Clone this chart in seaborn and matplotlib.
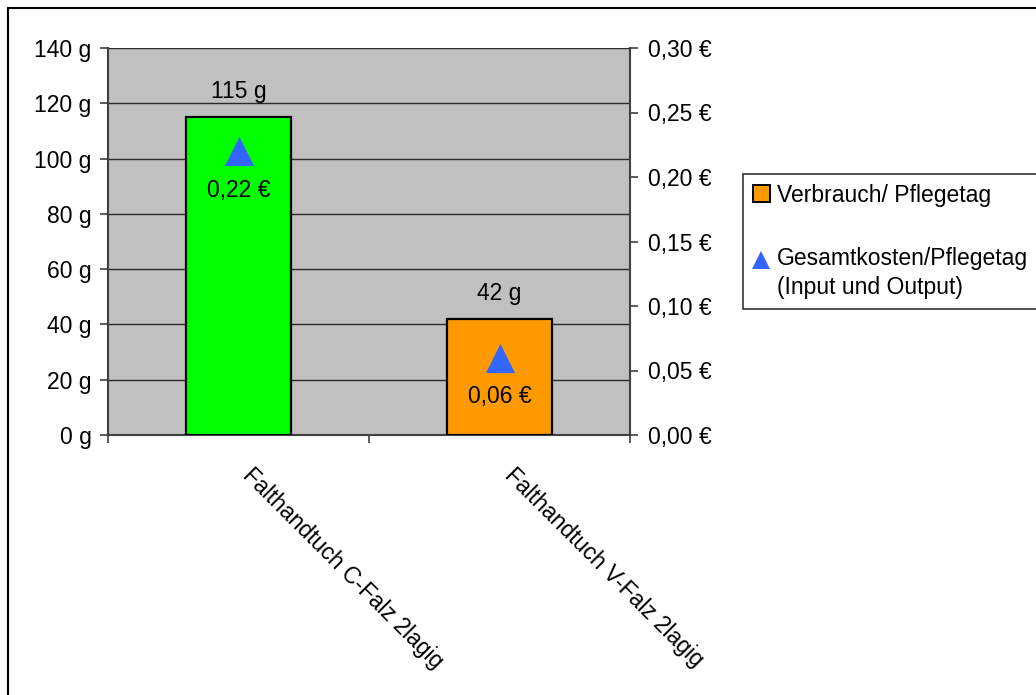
import numpy as np
import pandas as pd
import matplotlib
matplotlib.use("Agg")
import matplotlib.pyplot as plt
from matplotlib.patches import Rectangle, Patch
from matplotlib.lines import Line2D
from matplotlib.legend_handler import HandlerLine2D
from matplotlib.ticker import FixedLocator, FuncFormatter
import seaborn as sns

# Data
categories = ["Falthandtuch C-Falz 2lagig", "Falthandtuch V-Falz 2lagig"]
verbrauch_g = [115, 42]
kosten_eur = [0.22, 0.06]
bar_colors = ["#00FF00", "#FF9900"]
legend_labels = ["Verbrauch/ Pflegetag", "Gesamtkosten/Pflegetag\n(Input und Output)"]

sns.set_theme(style="white")
plt.rcParams["font.family"] = ["Liberation Sans", "DejaVu Sans"]
plt.rcParams["text.color"] = "black"
FS = 16.5

W, H = 1036, 695
fig = plt.figure(figsize=(W / 100, H / 100), dpi=100)
fig.patch.set_facecolor("white")

ax = fig.add_axes([108 / W, 1 - 435 / H, (630 - 108) / W, (435 - 48) / H])
ax.set_facecolor("#C0C0C0")

df = pd.DataFrame({"Produkt": categories, "Verbrauch": verbrauch_g})
sns.barplot(data=df, x="Produkt", y="Verbrauch", hue="Produkt",
            palette=bar_colors, saturation=1, width=0.4, edgecolor="black",
            linewidth=1.6, legend=False, ax=ax, zorder=3)

ax.set_xlim(-0.5, len(categories) - 0.5)
ax.set_ylim(0, 140)
ax.set_yticks(np.arange(0, 141, 20))
ax.yaxis.set_major_formatter(FuncFormatter(lambda v, p: f"{int(v)} g"))
ax.grid(axis="y", color="#2a2a2a", linewidth=1.0, zorder=0)
ax.grid(axis="x", visible=False)
ax.set_axisbelow(True)
ax.set_xlabel("")
ax.set_ylabel("")

ax.set_xticks(range(len(categories)))
ax.set_xticklabels(categories, rotation=-45, ha="left", va="bottom",
                   rotation_mode="anchor", fontsize=FS, color="black")
ax.xaxis.set_minor_locator(FixedLocator(np.arange(-0.5, len(categories), 1.0)))
ax.tick_params(axis="x", which="major", length=0, pad=32.5)
ax.tick_params(axis="x", which="minor", length=5.5, width=1.2,
               color="#404040", direction="out", bottom=True)
ax.tick_params(axis="y", which="major", length=5.8, width=1.2, color="#404040",
               direction="out", left=True, labelsize=FS, labelcolor="black", pad=6)

for side in ["left", "right", "bottom"]:
    ax.spines[side].set_visible(True)
    ax.spines[side].set_color("#404040")
    ax.spines[side].set_linewidth(1.5)
ax.spines["top"].set_visible(False)

# Value labels above the bars
for i, v in enumerate(verbrauch_g):
    ax.annotate(f"{v} g", (i, v), xytext=(0, 18.5), textcoords="offset points",
                ha="center", va="center", fontsize=FS, color="black", zorder=5)

# Secondary axis with total costs
ax2 = ax.twinx()
ax2.set_ylim(0, 0.30)
ax2.set_yticks(np.arange(0, 0.301, 0.05))
ax2.yaxis.set_major_formatter(FuncFormatter(lambda v, p: f"{v:.2f} €".replace(".", ",")))
ax2.tick_params(axis="y", which="major", length=5.8, width=1.2, color="#404040",
                direction="out", right=True, labelsize=FS, labelcolor="black", pad=7)
ax2.grid(False)
for side in ["left", "right", "bottom", "top"]:
    ax2.spines[side].set_visible(False)

positions = np.arange(len(categories))
sns.scatterplot(x=positions, y=kosten_eur, marker="^", s=440, color="#3366FF",
                linewidth=0, ax=ax2, zorder=4, legend=False)
for i, v in enumerate(kosten_eur):
    ax2.annotate(f"{v:.2f} €".replace(".", ","), (i, v), xytext=(0, -28),
                 textcoords="offset points", ha="center", va="center",
                 fontsize=FS, color="black", zorder=5)
ax2.set_ylabel("")


class FirstLineMarker(HandlerLine2D):
    """Marker handler that lines the symbol up with the first text line."""

    def __init__(self, dy, **kw):
        super().__init__(**kw)
        self.dy = dy

    def create_artists(self, legend, orig_handle, xdescent, ydescent,
                       width, height, fontsize, trans):
        arts = super().create_artists(legend, orig_handle, xdescent, ydescent,
                                      width, height, fontsize, trans)
        for a in arts:
            a.set_ydata(np.asarray(a.get_ydata()) + self.dy)
        return arts


# Legend
tri = Line2D([], [], marker="^", linestyle="none", markersize=13,
             markerfacecolor="#3366FF", markeredgewidth=0)
handles = [Patch(facecolor="#FF9900", edgecolor="black", linewidth=1.4), tri]
leg = fig.legend(handles, legend_labels, loc="upper left",
                 bbox_to_anchor=(743 / W, 1 - 174 / H), borderaxespad=0,
                 frameon=True, fancybox=False, edgecolor="black", fontsize=FS,
                 labelcolor="black",
                 handlelength=0.75, handleheight=0.75, handletextpad=0.3,
                 labelspacing=1.75, borderpad=0.42,
                 handler_map={tri: FirstLineMarker(dy=10.0)})
leg.get_frame().set_linewidth(1.2)
leg.get_texts()[1].set_linespacing(1.35)

# Outer frame of the chart area
fig.add_artist(Rectangle((8 / W, -0.05), 1.2, 1 - 8 / H + 0.05,
                         transform=fig.transFigure, fill=False,
                         edgecolor="black", linewidth=1.5))

fig.savefig("out.png", dpi=100, facecolor="white")
